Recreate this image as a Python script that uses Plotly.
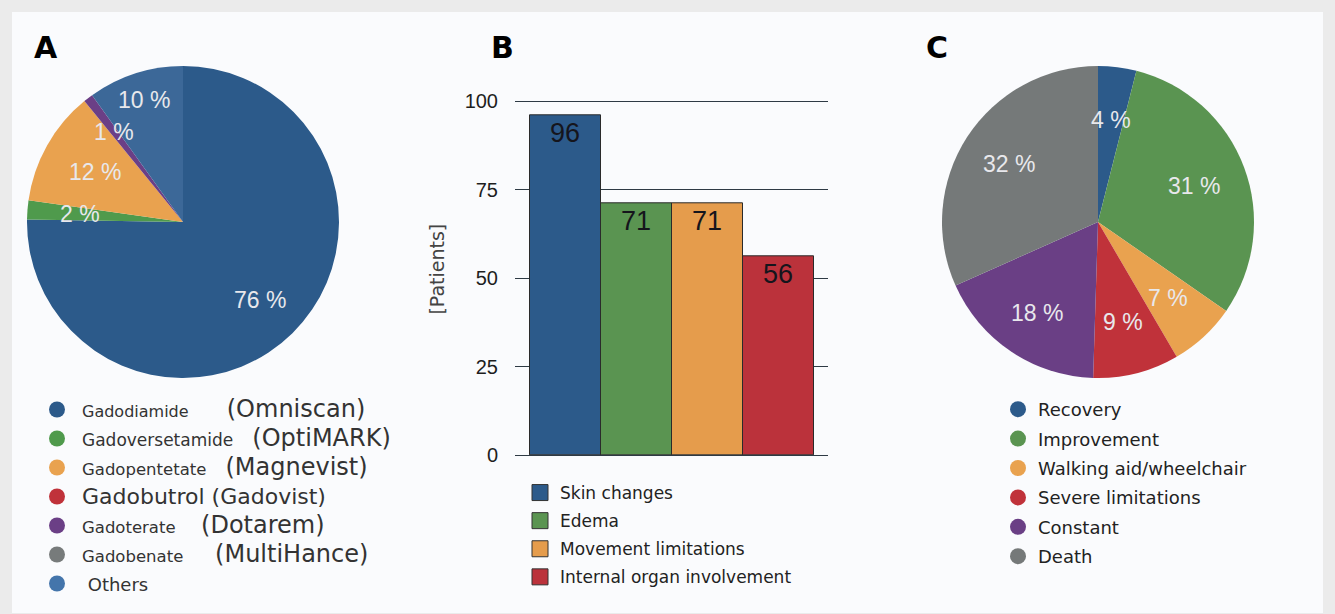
import math
import plotly.graph_objects as go

W, H = 1335, 614

# ---------------- data ----------------
agent_generic = ["Gadodiamide", "Gadoversetamide", "Gadopentetate", "Gadobutrol", "Gadoterate", "Gadobenate", "Others"]
agent_brand = ["(Omniscan)", "(OptiMARK)", "(Magnevist)", "(Gadovist)", "(Dotarem)", "(MultiHance)", ""]
agent_share = [76, 2, 12, 0, 1, 0, 10]
agent_colors = ["#2c5a8a", "#4f9a4c", "#e9a24f", "#c0323a", "#6b3f86", "#777b7b", "#3c6898"]
agent_legend_colors = ["#2c5a8a", "#4f9a4c", "#e9a24f", "#c0323a", "#6b3f86", "#777b7b", "#4475ab"]

symptom_names = ["Skin changes", "Edema", "Movement limitations", "Internal organ involvement"]
symptom_patients = [96, 71, 71, 56]
symptom_colors = ["#2c5a8a", "#5a9451", "#e59c4c", "#bb323b"]

outcome_names = ["Recovery", "Improvement", "Walking aid/wheelchair", "Severe limitations", "Constant", "Death"]
outcome_share = [4, 31, 7, 9, 18, 32]
outcome_colors = ["#2c5a8a", "#5a9451", "#e9a24f", "#c0323a", "#6a3f85", "#757979"]

y_ticks = [0, 25, 50, 75, 100]

# style: radial position of each pie label, as a fraction of the radius
agent_label_r = [0.70, 0.66, 0.65, 0.66, 0.73, 0.66, 0.82]
outcome_label_r = [0.66, 0.66, 0.66, 0.66, 0.70, 0.68]
# style: legend A generic-name font size and gap (nbsp count) before brand name
agent_generic_size = [16, 17, 16.5, 22, 16.5, 16.5, 18]
agent_gap = [6, 3, 3, 1, 4, 5, 0]


def px(x):
    return x / W


def py(y):
    return 1 - y / H


fig = go.Figure()

label_font = dict(family="Liberation Sans, Arial, sans-serif", size=23, color="#e8e8ec")

pie_a_dom = dict(x=[px(27), px(339)], y=[py(378), py(66)])
pie_c_dom = dict(x=[px(942), px(1254)], y=[py(378), py(66)])

# ---------------- Panel A pie ----------------
fig.add_trace(go.Pie(
    labels=agent_generic, values=agent_share, textinfo="none",
    marker=dict(colors=agent_colors, line=dict(width=0)),
    sort=False, direction="clockwise", rotation=0,
    domain=pie_a_dom, showlegend=False, hoverinfo="label+percent",
))

# ---------------- Panel C pie ----------------
fig.add_trace(go.Pie(
    labels=outcome_names, values=outcome_share, textinfo="none",
    marker=dict(colors=outcome_colors, line=dict(width=0)),
    sort=False, direction="clockwise", rotation=0,
    domain=pie_c_dom, showlegend=False, hoverinfo="label+percent",
))


def pie_labels(values, dom, fracs):
    """Percentage labels placed at the mid-angle of each slice (clockwise from 12 o'clock)."""
    x0, x1 = dom["x"][0] * W, dom["x"][1] * W
    y0, y1 = (1 - dom["y"][1]) * H, (1 - dom["y"][0]) * H
    cx, cy = (x0 + x1) / 2, (y0 + y1) / 2
    r = min(x1 - x0, y1 - y0) / 2
    total = sum(values)
    acc = 0
    out = []
    for v, f in zip(values, fracs):
        if v > 0:
            mid = (acc + v / 2) / total * 2 * math.pi
            lx = cx + f * r * math.sin(mid)
            ly = cy - f * r * math.cos(mid)
            out.append(dict(text=f"{v} %", x=px(lx), y=py(ly), xref="paper", yref="paper",
                            xanchor="center", yanchor="middle", showarrow=False, font=label_font))
        acc += v
    return out


# ---------------- Panel B bars ----------------
fig.add_trace(go.Bar(
    x=list(range(len(symptom_names))), y=symptom_patients,
    marker=dict(color=symptom_colors, line=dict(color="#2a2a2a", width=1)),
    text=[str(v) for v in symptom_patients], textposition="inside", insidetextanchor="end",
    insidetextfont=dict(family="Liberation Sans, Arial, sans-serif", size=27, color="#15151c"),
    textangle=0, width=1.0,
    showlegend=False, hovertext=symptom_names, hoverinfo="text+y",
))

# ---------------- legends (dummy traces) ----------------
for i, (g, b) in enumerate(zip(agent_generic, agent_brand)):
    gap = "&nbsp;" * agent_gap[i]
    if g == "Gadobutrol":
        name = f"<span style='font-size:22px'>{g}{gap}{b}</span>"
    elif b:
        name = (f"<span style='font-size:{agent_generic_size[i]}px'>{g}</span>{gap}"
                f"<span style='font-size:24px'>{b}</span>")
    else:
        name = f"<span style='font-size:{agent_generic_size[i]}px'>&nbsp;{g}</span>"
    fig.add_trace(go.Scatter(
        x=[None], y=[None], mode="markers", name=name,
        marker=dict(symbol="circle", size=16, color=agent_legend_colors[i]),
        legend="legend", legendgroup=f"a{i}", showlegend=True,
    ))

for i, n in enumerate(symptom_names):
    fig.add_trace(go.Scatter(
        x=[None], y=[None], mode="markers", name=n,
        marker=dict(symbol="square", size=16, color=symptom_colors[i], line=dict(color="#333", width=1)),
        legend="legend2", legendgroup=f"b{i}", showlegend=True,
    ))

for i, n in enumerate(outcome_names):
    fig.add_trace(go.Scatter(
        x=[None], y=[None], mode="markers", name=n,
        marker=dict(symbol="circle", size=16, color=outcome_colors[i]),
        legend="legend3", legendgroup=f"c{i}", showlegend=True,
    ))

legend_common = dict(bgcolor="rgba(0,0,0,0)", borderwidth=0, traceorder="grouped",
                     xanchor="left", yanchor="top", itemclick=False, itemdoubleclick=False)

annotations = (pie_labels(agent_share, pie_a_dom, agent_label_r)
               + pie_labels(outcome_share, pie_c_dom, outcome_label_r))
for letter, (lx, ly) in zip("ABC", [(46, 47), (502, 47), (937, 47)]):
    annotations.append(dict(text=f"<b>{letter}</b>", x=px(lx), y=py(ly), xref="paper", yref="paper",
                            xanchor="center", yanchor="middle", showarrow=False,
                            font=dict(family="DejaVu Sans, sans-serif", size=30, color="#000")))

fig.update_layout(
    width=W, height=H,
    margin=dict(l=0, r=0, t=0, b=0, autoexpand=False),
    paper_bgcolor="#ebebeb", plot_bgcolor="rgba(0,0,0,0)",
    font=dict(family="DejaVu Sans, sans-serif", color="#2a2a2a"),
    bargap=0,
    xaxis=dict(domain=[px(515), px(828)], range=[-0.71, 3.70], showgrid=False,
               showticklabels=False, zeroline=False, showline=False, ticks="", fixedrange=True),
    yaxis=dict(domain=[py(455), py(83.3)], range=[0, 105], tickvals=y_ticks,
               showgrid=True, gridcolor="#2e3a44", gridwidth=1,
               zeroline=True, zerolinecolor="#2e3a44", zerolinewidth=1,
               showline=False, ticks="", ticklabelstandoff=16,
               tickfont=dict(family="Liberation Sans, Arial, sans-serif", size=20, color="#1e1e1e"),
               title=dict(text="[Patients]", standoff=14,
                          font=dict(family="DejaVu Sans, sans-serif", size=19, color="#444")),
               fixedrange=True),
    legend=dict(x=px(32), y=py(390), font=dict(size=20, color="#333"),
                tracegroupgap=0, itemwidth=40, **legend_common),
    legend2=dict(x=px(520), y=py(475), font=dict(size=17, color="#222"),
                 tracegroupgap=3, **legend_common),
    legend3=dict(x=px(998), y=py(391), font=dict(size=18, color="#222"),
                 tracegroupgap=3, **legend_common),
    shapes=[dict(type="rect", xref="paper", yref="paper", x0=px(12), x1=px(1323), y0=py(613), y1=py(12),
                 fillcolor="#fafbfd", line=dict(width=0), layer="below")],
    annotations=annotations,
)

fig.write_html("out.html", config={"displayModeBar": False},
               post_script="document.body.style.margin='0';")
